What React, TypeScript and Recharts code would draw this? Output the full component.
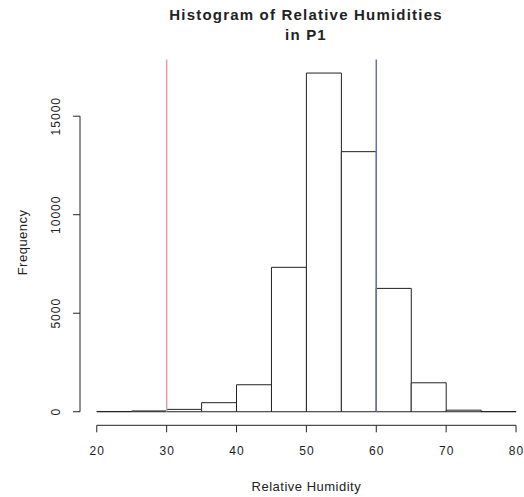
import React from 'react';
import { ComposedChart, Bar, XAxis, YAxis, ReferenceLine } from 'recharts';

const binStarts = [20, 25, 30, 35, 40, 45, 50, 55, 60, 65, 70, 75];
const binWidth = 5;
const counts = [10, 40, 120, 460, 1370, 7330, 17190, 13200, 6260, 1470, 80, 8];
const xTicks = [20, 30, 40, 50, 60, 70, 80];
const yTicks = [0, 5000, 10000, 15000];
const xDomain: [number, number] = [17.6, 82.4];
const yDomain: [number, number] = [-688, 17878];
const lowerLimit = 30;
const upperLimit = 60;

const data = binStarts.map((s, i) => ({ mid: s + binWidth / 2, count: counts[i] }));

const FONT = '"Liberation Sans", Arial, Helvetica, sans-serif';
const INK = '#222';

const XTick = (props: any) => {
  const { x, y, payload } = props;
  return (
    <text x={x + 0.5} y={y + 22.7} textAnchor="middle" fontSize={12} letterSpacing={1} fill={INK} fontFamily={FONT}>
      {payload.value}
    </text>
  );
};

const YTick = (props: any) => {
  const { x, y, payload } = props;
  const tx = x - 13.5;
  return (
    <text x={tx} y={y + 0.5} transform={`rotate(-90, ${tx}, ${y})`} textAnchor="middle" fontSize={12} letterSpacing={1} fill={INK} fontFamily={FONT}>
      {payload.value}
    </text>
  );
};

export default function App() {
  return (
    <div style={{ position: 'absolute', left: 0, top: 0, width: 524, height: 497, overflow: 'hidden', background: '#fff' }}>
      <div
        style={{
          position: 'absolute',
          left: 0,
          top: 5,
          width: 612,
          textAlign: 'center',
          fontFamily: FONT,
          fontWeight: 'bold',
          fontSize: 15,
          letterSpacing: '1.2px',
          lineHeight: '20px',
          color: INK,
        }}
      >
        Histogram of Relative Humidities
        <br />
        in P1
      </div>
      <ComposedChart
        width={540}
        height={497}
        data={data}
        margin={{ top: 59.5, right: 7.2, left: 0, bottom: 0 }}
        barCategoryGap={0}
        barGap={0}
      >
        <XAxis
          type="number"
          dataKey="mid"
          domain={xDomain}
          ticks={xTicks}
          allowDataOverflow
          axisLine={false}
          tickLine={{ stroke: INK }}
          tickSize={7}
          tickMargin={0}
          height={71.7}
          tick={<XTick />}
          interval={0}
          label={{
            value: 'Relative Humidity',
            position: 'insideBottom',
            offset: 6,
            fontSize: 13,
            letterSpacing: 0.5,
            fill: INK,
            fontFamily: FONT,
          }}
        />
        <YAxis
          type="number"
          domain={yDomain}
          ticks={yTicks}
          allowDataOverflow
          axisLine={false}
          tickLine={{ stroke: INK }}
          tickSize={7}
          tickMargin={0}
          width={80}
          tick={<YTick />}
          interval={0}
          label={{
            value: 'Frequency',
            angle: -90,
            position: 'insideLeft',
            offset: 22,
            fontSize: 13,
            letterSpacing: 0.5,
            fill: INK,
            fontFamily: FONT,
            style: { textAnchor: 'middle' },
          }}
        />
        <ReferenceLine
          segment={[
            { x: xTicks[0], y: yDomain[0] },
            { x: xTicks[xTicks.length - 1], y: yDomain[0] },
          ]}
          stroke={INK}
          ifOverflow="visible"
        />
        <ReferenceLine
          segment={[
            { x: xDomain[0], y: yTicks[0] },
            { x: xDomain[0], y: yTicks[yTicks.length - 1] },
          ]}
          stroke={INK}
          ifOverflow="visible"
        />
        <Bar dataKey="count" fill="#fff" stroke={INK} strokeWidth={1} isAnimationActive={false} />
        <ReferenceLine
          segment={[
            { x: lowerLimit, y: 0 },
            { x: lowerLimit, y: yDomain[1] },
          ]}
          stroke="#d9a0a8"
          strokeWidth={1.5}
        />
        <ReferenceLine
          segment={[
            { x: upperLimit, y: 0 },
            { x: upperLimit, y: yDomain[1] },
          ]}
          stroke="#6f6fb0"
          strokeWidth={1.5}
        />
      </ComposedChart>
    </div>
  );
}
